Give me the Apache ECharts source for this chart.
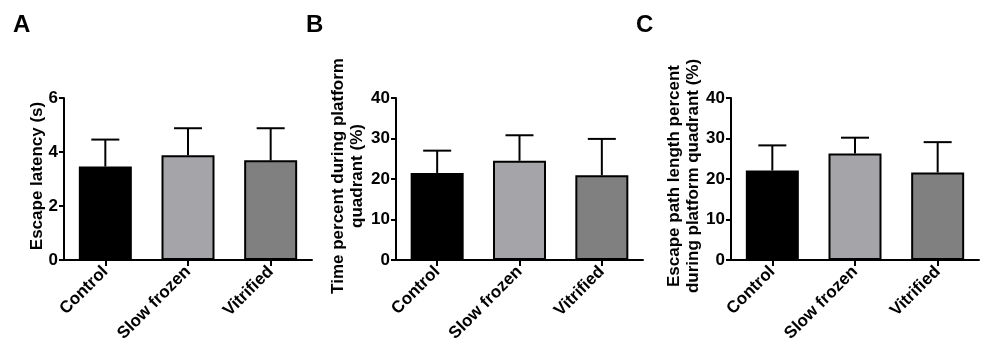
<!DOCTYPE html>
<html>
<head>
<meta charset="utf-8">
<script src="https://cdn.jsdelivr.net/npm/echarts@6/dist/echarts.min.js"></script>
<style>html,body{margin:0;padding:0;background:#fff}#c{width:1000px;height:361px}</style>
</head>
<body>
<div id="c"></div>
<script>
var categories = ['Control', 'Slow frozen', 'Vitrified'];
var barColors = ['#000000', '#a5a5a9', '#808080'];

var meansA = [3.46, 3.88, 3.69];
var sdA = [1.00, 1.00, 1.19];
var ticksA = {min: 0, max: 6, interval: 2};

var meansB = [21.5, 24.5, 20.9];
var sdB = [5.5, 6.3, 9.0];
var ticksB = {min: 0, max: 40, interval: 10};

var meansC = [22.1, 26.3, 21.6];
var sdC = [6.2, 3.9, 7.5];
var ticksC = {min: 0, max: 40, interval: 10};

var panelLabels = ['A', 'B', 'C'];
var yTitles = ['Escape latency (s)', 'Time percent during platform\nquadrant (%)', 'Escape path length percent\nduring platform quadrant (%)'];

var FONT = 'Liberation Sans, Arial, sans-serif';
var grids = [
  {left: 64, width: 248, top: 98, height: 162},
  {left: 396, width: 247, top: 98, height: 162},
  {left: 731, width: 248, top: 98, height: 162}
];
var titlePos = [
  {x: 37, y: 176},
  {x: 348, y: 176},
  {x: 684, y: 176}
];
var panelPos = [{x: 13, y: 13}, {x: 306, y: 13}, {x: 636, y: 13}];
var means = [meansA, meansB, meansC];
var sds = [sdA, sdB, sdC];
var ticks = [ticksA, ticksB, ticksC];

var option = {
  animation: false,
  backgroundColor: '#fff',
  grid: grids,
  xAxis: [], yAxis: [], series: [], graphic: []
};

for (var i = 0; i < 3; i++) {
  option.xAxis.push({
    type: 'category', gridIndex: i, data: categories,
    axisLine: {lineStyle: {color: '#000', width: 2}},
    axisTick: {show: true, alignWithLabel: true, length: 6, lineStyle: {color: '#000', width: 2}},
    axisLabel: {rotate: 45, interval: 0, margin: 9, color: '#000', fontSize: 17, fontWeight: 'bold', fontFamily: FONT}
  });
  option.yAxis.push({
    type: 'value', gridIndex: i, min: ticks[i].min, max: ticks[i].max, interval: ticks[i].interval,
    splitLine: {show: false},
    axisLine: {show: true, lineStyle: {color: '#000', width: 2}},
    axisTick: {show: true, length: 5, lineStyle: {color: '#000', width: 2}},
    axisLabel: {margin: 6, color: '#000', fontSize: 17, fontWeight: 'bold', fontFamily: FONT}
  });
  option.series.push({
    type: 'bar', xAxisIndex: i, yAxisIndex: i, barWidth: 53,
    data: means[i].map(function (v, k) {
      return {value: v, itemStyle: {color: barColors[k], borderColor: '#000', borderWidth: 2}};
    }),
    z: 2
  });
  (function (idx) {
    option.series.push({
      type: 'custom', xAxisIndex: idx, yAxisIndex: idx, z: 1,
      data: means[idx].map(function (v, k) { return [k, v, v + sds[idx][k]]; }),
      renderItem: function (params, api) {
        var x = api.value(0);
        var p0 = api.coord([x, api.value(1)]);
        var p1 = api.coord([x, api.value(2)]);
        var hw = 14;
        return {
          type: 'group',
          children: [
            {type: 'line', shape: {x1: p0[0], y1: p0[1], x2: p1[0], y2: p1[1]}, style: {stroke: '#000', lineWidth: 2}},
            {type: 'line', shape: {x1: p1[0] - hw, y1: p1[1], x2: p1[0] + hw, y2: p1[1]}, style: {stroke: '#000', lineWidth: 2}}
          ]
        };
      }
    });
  })(i);
  option.graphic.push({
    type: 'text', left: panelPos[i].x, top: panelPos[i].y,
    style: {text: panelLabels[i], font: 'bold 24px ' + FONT, fill: '#000'}
  });
  option.graphic.push({
    type: 'text', x: titlePos[i].x, y: titlePos[i].y, rotation: Math.PI / 2,
    style: {text: yTitles[i], font: 'bold 17px ' + FONT, fill: '#000', textAlign: 'center', textVerticalAlign: 'middle', lineHeight: 19}
  });
}

var chart = echarts.init(document.getElementById('c'), null, {renderer: 'canvas'});
chart.setOption(option);
</script>
</body>
</html>
